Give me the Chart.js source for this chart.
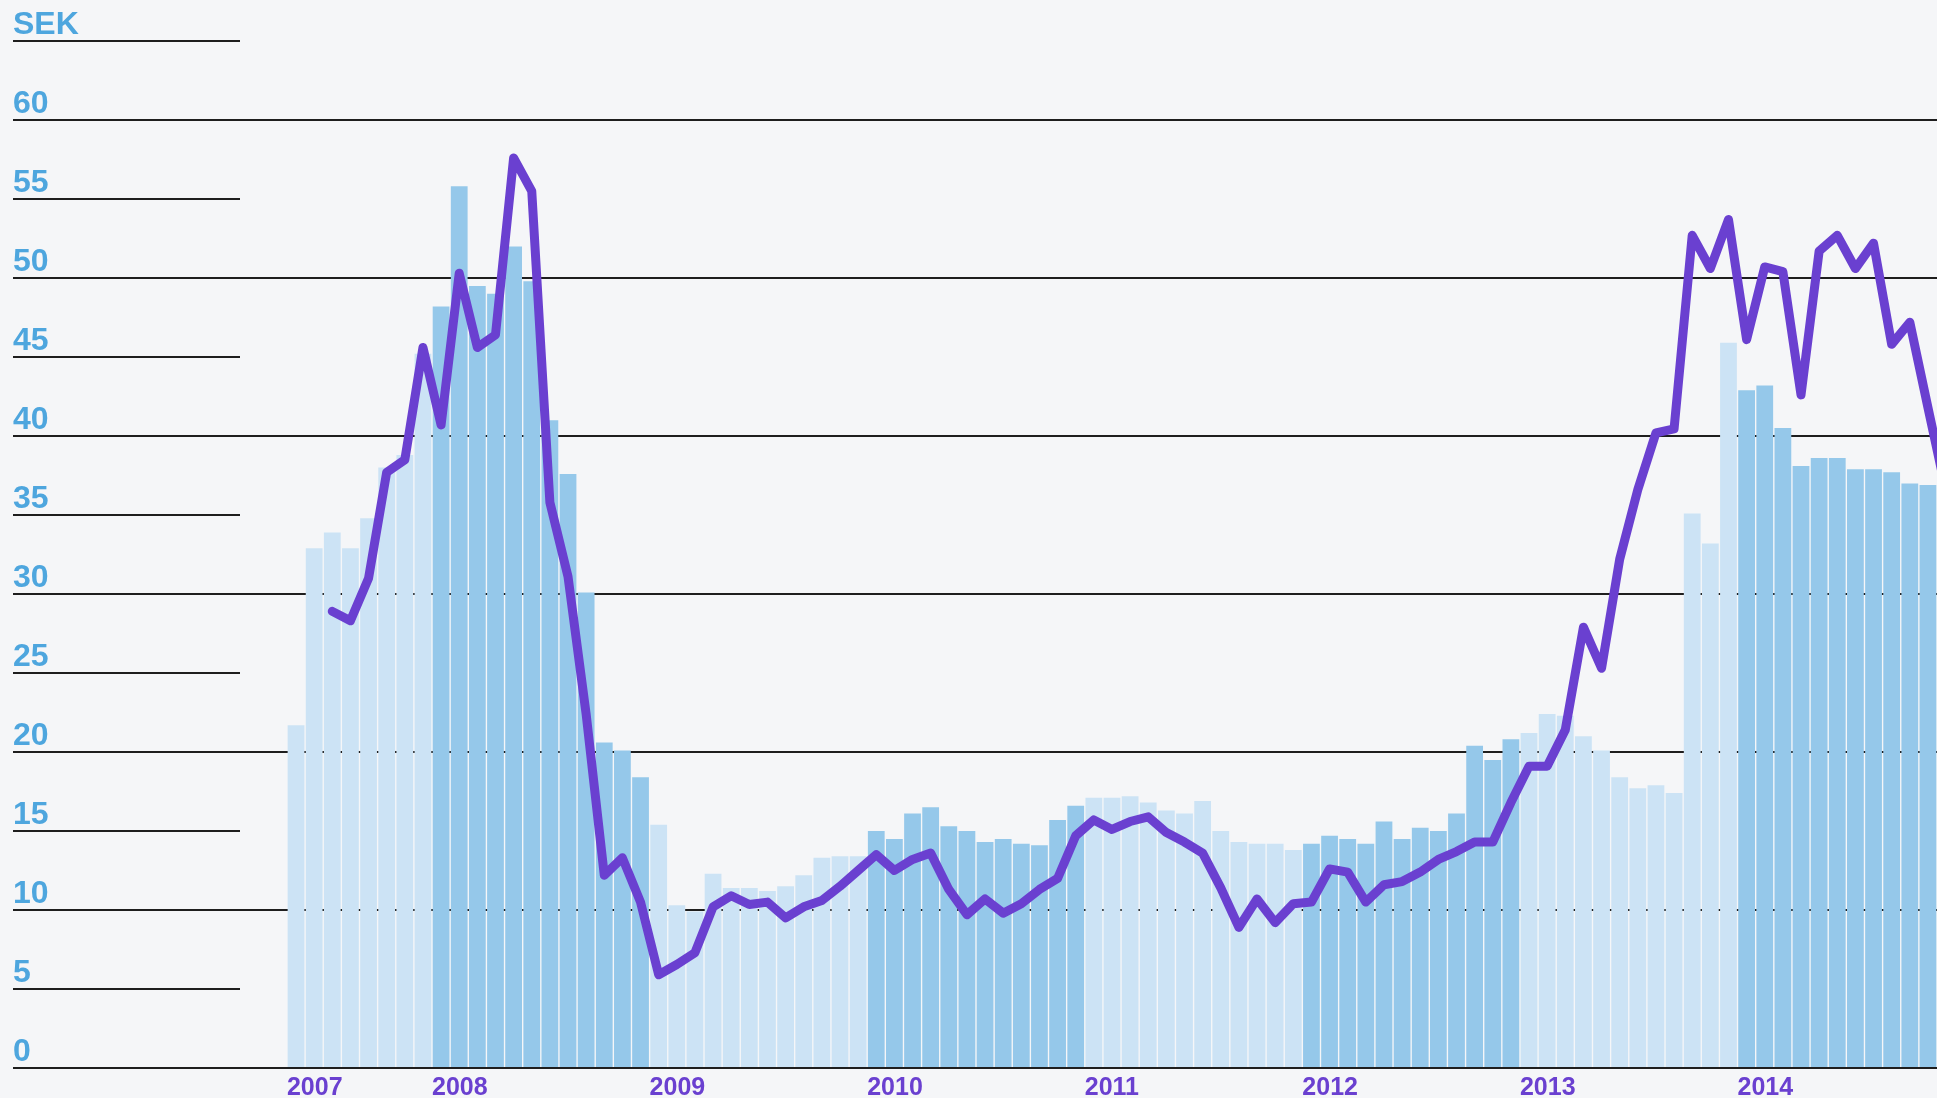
<!DOCTYPE html>
<html lang="sv">
<head>
    <meta charset="UTF-8">
    <title>SEK</title>
    <script src="https://cdn.jsdelivr.net/npm/chart.js"></script>
    <style>
        html, body {
            margin: 0;
            padding: 0;
            background-color: #f5f6f8;
        }
        .chart-container {
            width: 1937px;
            height: 1098px;
        }
    </style>
</head>
<body>
    <div class="chart-container">
        <canvas id="sekChart"></canvas>
    </div>

    <script>
        // år och antal månader per år (data börjar maj 2007)
        const years = ['2007', '2008', '2009', '2010', '2011', '2012', '2013', '2014'];
        const monthsPerYear = [8, 12, 12, 12, 12, 12, 12, 12];

        // staplar, SEK per månad
        const barValues = [
            21.7, 32.9, 33.9, 32.9, 34.8, 38.0, 38.8, 45.2,
            48.2, 55.8, 49.5, 49.0, 52.0, 49.8, 41.0, 37.6, 30.1, 20.6, 20.1, 18.4,
            15.4, 10.3, 9.9, 12.3, 11.4, 11.4, 11.2, 11.5, 12.2, 13.3, 13.4, 13.4,
            15.0, 14.5, 16.1, 16.5, 15.3, 15.0, 14.3, 14.5, 14.2, 14.1, 15.7, 16.6,
            17.1, 17.1, 17.2, 16.8, 16.3, 16.1, 16.9, 15.0, 14.3, 14.2, 14.2, 13.8,
            14.2, 14.7, 14.5, 14.2, 15.6, 14.5, 15.2, 15.0, 16.1, 20.4, 19.5, 20.8,
            21.2, 22.4, 22.3, 21.0, 20.1, 18.4, 17.7, 17.9, 17.4, 35.1, 33.2, 45.9,
            42.9, 43.2, 40.5, 38.1, 38.6, 38.6, 37.9, 37.9, 37.7, 37.0, 36.9, 38.8
        ];

        // linjen
        const lineValues = [
            null, null, 28.9, 28.3, 31.0, 37.7, 38.5, 45.6,
            40.7, 50.3, 45.6, 46.4, 57.6, 55.5, 35.8, 31.1, 22.4, 12.2, 13.3, 10.5,
            5.9, 6.55, 7.3, 10.2, 10.9, 10.35, 10.5, 9.5, 10.2, 10.6, 11.5, 12.5,
            13.5, 12.5, 13.2, 13.6, 11.3, 9.7, 10.7, 9.8, 10.4, 11.3, 12.0, 14.7,
            15.7, 15.1, 15.6, 15.9, 14.9, 14.3, 13.6, 11.4, 8.9, 10.7, 9.2, 10.4,
            10.5, 12.6, 12.4, 10.5, 11.6, 11.8, 12.4, 13.2, 13.7, 14.3, 14.3, 16.8,
            19.1, 19.1, 21.4, 27.9, 25.3, 32.2, 36.6, 40.2, 40.45, 52.7, 50.6, 53.7,
            46.1, 50.7, 50.4, 42.6, 51.7, 52.7, 50.6, 52.2, 45.8, 47.2, 41.8, 36.5
        ];

        // y-axelns etiketter (65 visas som SEK)
        const yTicks = [0, 5, 10, 15, 20, 25, 30, 35, 40, 45, 50, 55, 60, 65];
        const yTopLabel = 'SEK';

        const lightBlue = '#cce3f5';
        const darkBlue = '#95c8ea';
        const purple = '#6a40d0';
        const labelBlue = '#4ea6de';
        const gridColor = '#1e1e1e';

        // index där varje år börjar, och färg per stapel
        const yearStart = [];
        const barColors = [];
        let idx = 0;
        years.forEach((y, n) => {
            yearStart.push(idx);
            for (let m = 0; m < monthsPerYear[n]; m++) {
                barColors.push(n % 2 === 0 ? lightBlue : darkBlue);
                idx++;
            }
        });
        // sista stapeln (dec 2014) som sticker ut i kanten
        while (barColors.length < barValues.length) barColors.push(darkBlue);

        const barPoints = barValues.map((v, i) => ({ x: i, y: v }));
        const linePoints = lineValues.map((v, i) => ({ x: i, y: v }));

        Chart.defaults.font.family = '"Liberation Sans", Arial, Helvetica, sans-serif';

        const ctx = document.getElementById('sekChart').getContext('2d');
        new Chart(ctx, {
            type: 'bar',
            data: {
                datasets: [{
                    type: 'line',
                    data: linePoints,
                    borderColor: purple,
                    borderWidth: 9,
                    borderJoinStyle: 'round',
                    borderCapStyle: 'round',
                    pointRadius: 0,
                    tension: 0,
                    fill: false,
                    order: 0
                }, {
                    type: 'bar',
                    data: barPoints,
                    backgroundColor: barColors,
                    borderWidth: 0,
                    categoryPercentage: 1,
                    barPercentage: 0.925,
                    order: 1
                }]
            },
            options: {
                responsive: true,
                maintainAspectRatio: false,
                animation: false,
                layout: {
                    padding: { left: 13, top: 41, right: 0, bottom: 0 }
                },
                plugins: {
                    legend: { display: false },
                    tooltip: { enabled: false }
                },
                scales: {
                    x: {
                        type: 'linear',
                        offset: false,
                        min: -3.09,
                        max: 90.5,
                        grid: { display: false, drawTicks: false },
                        border: { display: false },
                        afterBuildTicks: (scale) => {
                            scale.ticks = yearStart.map(i => ({ value: i - 0.5 }));
                        },
                        afterFit: (scale) => { scale.height = 30; },
                        ticks: {
                            autoSkip: false,
                            maxRotation: 0,
                            align: 'start',
                            padding: 5,
                            color: purple,
                            font: { size: 25, weight: 'bold' },
                            callback: (value, index) => years[index]
                        }
                    },
                    y: {
                        min: 0,
                        max: 65,
                        afterBuildTicks: (scale) => {
                            scale.ticks = yTicks.map(v => ({ value: v }));
                        },
                        afterFit: (scale) => { scale.width = 227; },
                        border: { display: false },
                        grid: {
                            lineWidth: 2,
                            tickLength: 227,
                            tickColor: gridColor,
                            color: (c) => (c.tick && c.tick.value % 10 === 0) ? gridColor : 'rgba(0,0,0,0)'
                        },
                        ticks: {
                            crossAlign: 'far',
                            labelOffset: -16,
                            color: labelBlue,
                            font: { size: 32, weight: 'bold' },
                            callback: (value) => value === 65 ? yTopLabel : value
                        }
                    }
                }
            }
        });
    </script>
</body>
</html>
